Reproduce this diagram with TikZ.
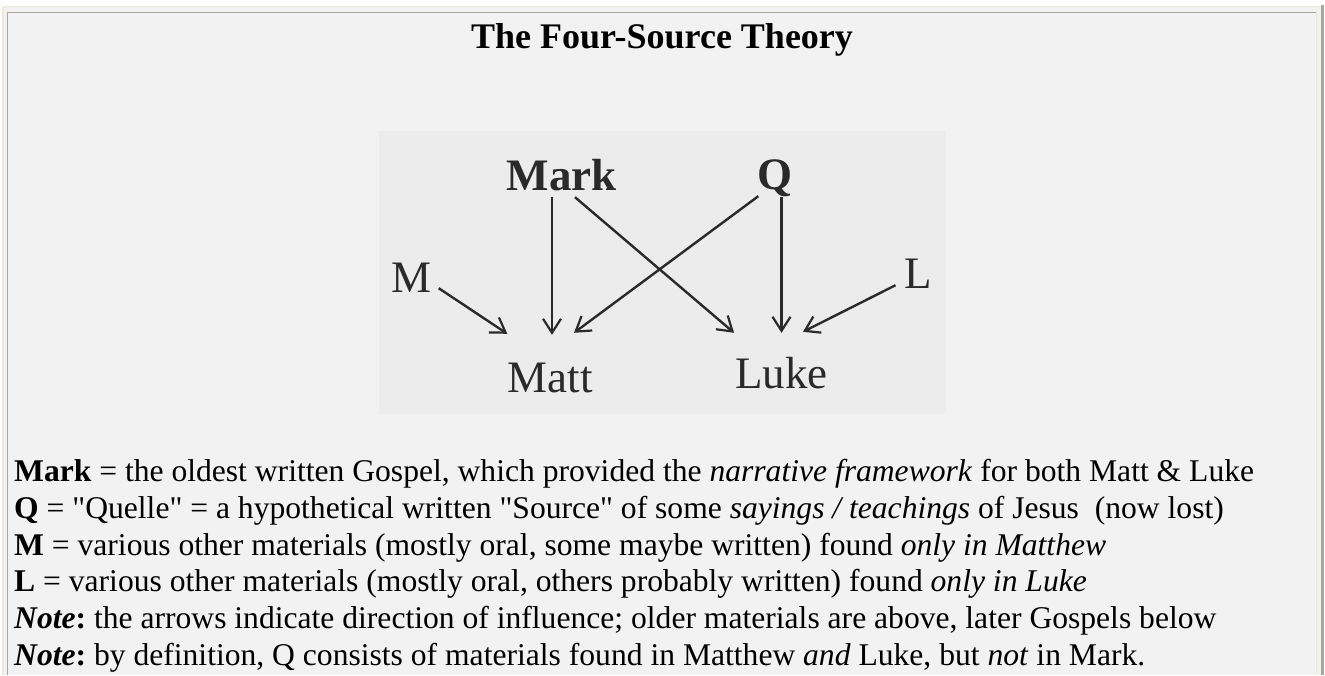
\documentclass[tikz,border=0pt]{standalone}
\usepackage{fontspec}
\setmainfont{Liberation Serif}[Ligatures=TeXOff]
\usetikzlibrary{arrows.meta,calc}
\definecolor{fsbg}{HTML}{F2F2F2}
\definecolor{fsscan}{HTML}{ECECEC}
\definecolor{fsbeige}{HTML}{ECE9D8}
\definecolor{fsolive}{HTML}{ACA899}
\definecolor{fsink}{HTML}{2A2A2A}
\frenchspacing
\tikzset{
  fslabel/.style={font=\fontsize{45}{45}\selectfont, text=fsink, inner sep=0pt,
                  text height=31pt, text depth=0pt, anchor=base},
  fsbold/.style={fslabel, font=\fontsize{45}{45}\selectfont\bfseries},
  fsarrow/.style={-{Straight Barb[length=14pt,width=18pt,line width=2.2pt]},
                  line width=2.4pt, draw=fsink},
  fsline/.style={font=\fontsize{31.6}{37}\selectfont, anchor=base west, inner sep=0pt},
  fstitle/.style={font=\fontsize{36}{40}\selectfont\bfseries, anchor=base, inner sep=0pt},
}

\begin{document}
\begin{tikzpicture}[x=1pt,y=-1pt]
        \useasboundingbox (0,0) rectangle (1325,675);
        % ---------------- moldura ----------------
        \fill[white] (0,0) rectangle (1325,675);
        \fill[fsbg] (2,6) rectangle (1323,675);
        \fill[fsbeige] (1.5,5.5) rectangle (1321,7);
        \fill[fsbeige] (1.5,5.5) rectangle (4,675);
        \fill[fsolive] (1321,5) rectangle (1323.5,675);
        \fill[fsolive] (7,11.5) rectangle (1316,12.8);
        \fill[fsolive] (6.8,11.5) rectangle (8.2,675);
        \fill[fsbeige] (1315.5,12) rectangle (1317,675);
        % ---------------- titulo ----------------
        \node[fstitle] (title) at (662,48) {The Four-Source Theory};
        % ---------------- figura ----------------
        \fill[fsscan] (379,131) rectangle (946,414);
        \node[fsbold] (mark) at (561.5,190) {Mark};
        \node[fsbold] (q) at (775,189) {Q};
        \node[fslabel] (m) at (411.5,292) {M};
        \node[fslabel] (l) at (918.5,288) {L};
        \node[fslabel] (matt) at (550,392) {Matt};
        \node[fslabel] (luke) at (781.5,388) {Luke};
        % ---------------- setas ----------------
        \draw[fsarrow] ($(mark.south -| matt.north)+(2,7)$) -- ($(matt.north)+(2,-26)$);
        \draw[fsarrow] ($(mark.south)+(13.5,7)$) -- ($(luke.north west)+(-1,-24)$);
        \draw[fsarrow] ($(q.south west)+(1,7)$) -- ($(matt.north)+(24,-28)$);
        \draw[fsarrow] ($(q.south -| luke.north)+(0,8)$) -- ($(luke.north)+(0,-24)$);
        \draw[fsarrow] ($(m.south east)+(7,-4)$) -- ($(matt.north west)+(0,-27)$);
        \draw[fsarrow] ($(l.south west)+(-9,-3)$) -- ($(luke.north)+(21.5,-25)$);
        % ---------------- legenda ----------------
        \node[fsline] (t1) at (14,481) {\textbf{Mark} = the oldest written Gospel, which provided the \textit{narrative framework} for both Matt \& Luke};
        \node[fsline] (t2) at (14,518) {\textbf{Q} = "Quelle" = a hypothetical written "Source" of some \textit{sayings / teachings} of Jesus~ (now lost)};
        \node[fsline] (t3) at (14,555) {\textbf{M} = various other materials (mostly oral, some maybe written) found \textit{only in Matthew}};
        \node[fsline] (t4) at (14,591) {\textbf{L} = various other materials (mostly oral, others probably written) found \textit{only in Luke}};
        \node[fsline] (t5) at (14,628) {\textbf{\textit{Note}:} the arrows indicate direction of influence; older materials are above, later Gospels below};
        \node[fsline] (t6) at (14,665) {\textbf{\textit{Note}:} by definition, Q consists of materials found in Matthew \textit{and} Luke, but \textit{not} in Mark.};
\end{tikzpicture}
\end{document}
